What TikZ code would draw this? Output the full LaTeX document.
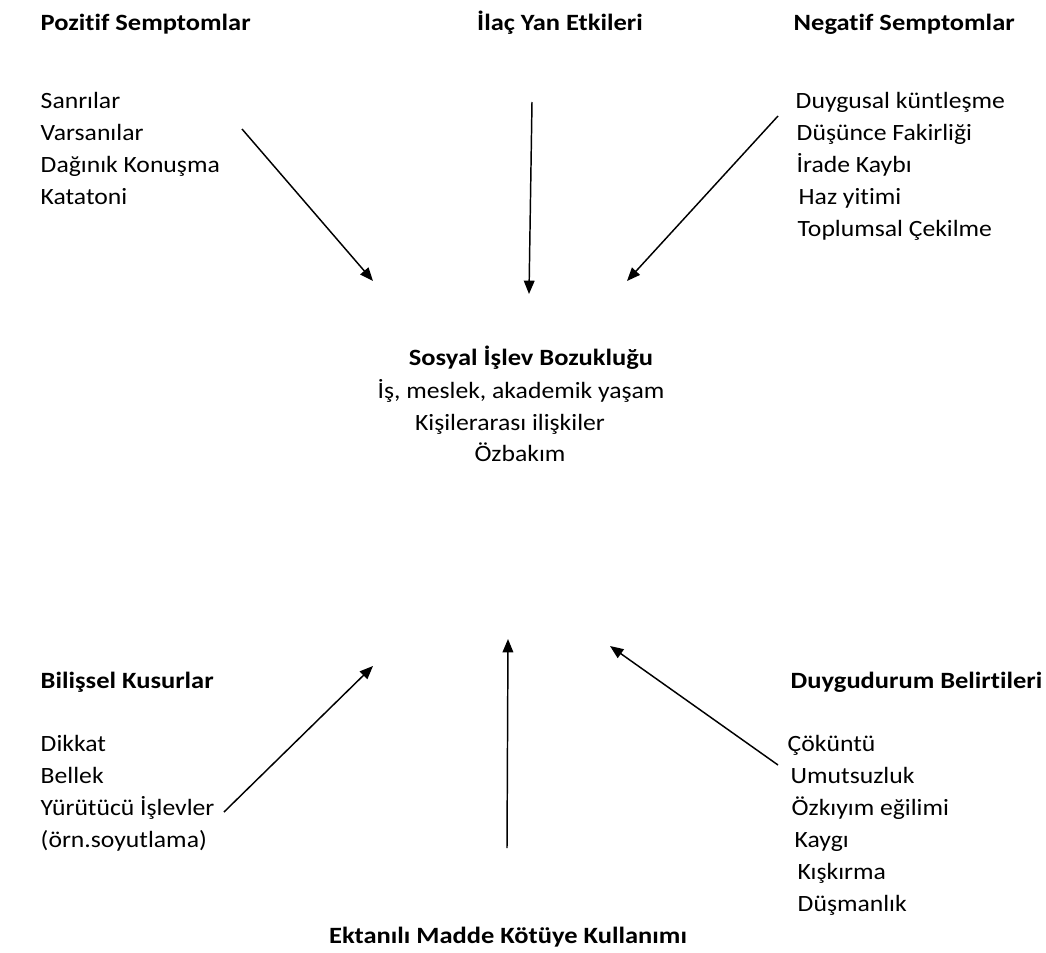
\documentclass[tikz,border=0pt]{standalone}
\usepackage{fontspec}
\setmainfont{Carlito}[Ligatures=NoCommon,FakeStretch=1.1,BoldFeatures={FakeStretch=1.135}]
\usetikzlibrary{arrows.meta}

\begin{document}
\begin{tikzpicture}[x=0.75pt,y=-0.75pt,line width=1.1pt,
  font=\fontsize{17.5pt}{21pt}\selectfont,
  >={Triangle[length=10pt,width=8pt]},
  head/.style={anchor=base west,inner sep=0pt,font=\fontsize{17.5pt}{21pt}\selectfont\bfseries},
  item/.style={anchor=base west,inner sep=0pt}]
  \useasboundingbox (0,0) rectangle (1046,953);
  % titles
  \node[head] (pozitif) at (40,30) {Pozitif Semptomlar};
  \node[head,anchor=base] (ilac) at (560,30) {İlaç Yan Etkileri};
  \node[head] (negatif) at (793,30) {Negatif Semptomlar};
  \node[head] (bilissel) at (40,688) {Bilişsel Kusurlar};
  \node[head] (duygudurum) at (790,688) {Duygudurum Belirtileri};
  \node[head,anchor=base] (ektani) at (508,943) {Ektanılı Madde Kötüye Kullanımı};
  % lists
  \foreach \txt [count=\i] in {Sanrılar,Varsanılar,Dağınık Konuşma,Katatoni}
    \node[item] (poz-\i) at (40,76+32*\i) {\txt};
  \foreach \txt/\xx [count=\i] in {Duygusal küntleşme/795,Düşünce Fakirliği/796,İrade Kaybı/796,Haz yitimi/798,Toplumsal Çekilme/797}
    \node[item] (neg-\i) at (\xx,76+32*\i) {\txt};
  \foreach \txt [count=\i] in {Dikkat,Bellek,Yürütücü İşlevler,(örn.soyutlama)}
    \node[item] (bil-\i) at (40,719+32*\i) {\txt};
  \foreach \txt/\xx [count=\i] in {Çöküntü/787,Umutsuzluk/790,Özkıyım eğilimi/791,Kaygı/794,Kışkırma/797,Düşmanlık/797}
    \node[item] (duy-\i) at (\xx,719+32*\i) {\txt};
  % center
  \node[head,anchor=base] (sosyal) at (531,365) {Sosyal İşlev Bozukluğu};
  \node[item,anchor=base] (sos-1) at (521,398) {İş, meslek, akademik yaşam};
  \node[item,anchor=base] (sos-2) at (510,430) {Kişilerarası ilişkiler};
  \node[item,anchor=base] (sos-3) at (520,461) {Özbakım};
  % arrow ends
  \coordinate (a1) at (242,129);
  \coordinate (b1) at (373,281);
  \coordinate (a2) at (532,102);
  \coordinate (b2) at (529,294);
  \coordinate (a3) at (778,116);
  \coordinate (b3) at (627,281);
  \coordinate (a4) at (224,812);
  \coordinate (b4) at (373,666);
  \coordinate (a5) at (507,848);
  \coordinate (b5) at (508,639);
  \coordinate (a6) at (778,765);
  \coordinate (b6) at (610,646);
  \draw[->] (a1) -- (b1);
  \draw[->] (a2) -- (b2);
  \draw[->] (a3) -- (b3);
  \draw[->] (a4) -- (b4);
  \draw[->] (a5) -- (b5);
  \draw[->] (a6) -- (b6);
\end{tikzpicture}
\end{document}
